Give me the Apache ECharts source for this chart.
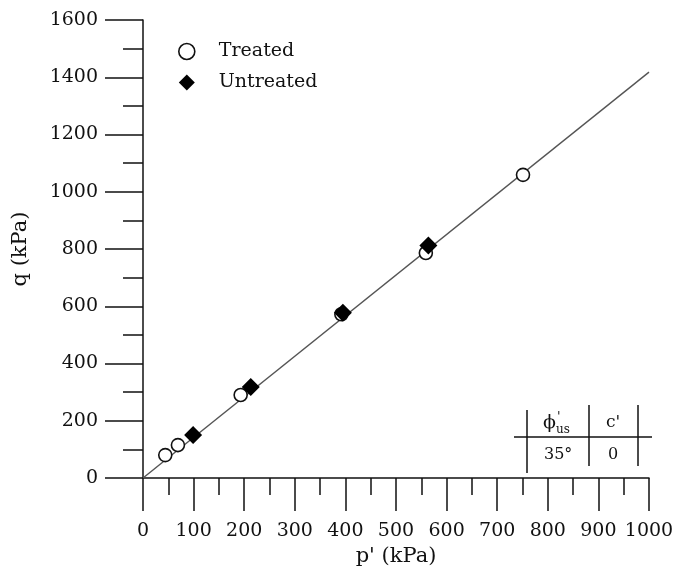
<!DOCTYPE html>
<html>
<head>
<meta charset="utf-8">
<script src="https://cdn.jsdelivr.net/npm/echarts@6/dist/echarts.min.js"></script>
<style>
  html, body { margin: 0; padding: 0; background: #fff; }
  #chart { width: 674px; height: 569px; }
</style>
</head>
<body>
<div id="chart"></div>
<script>
// Mean effective stress p' and deviator stress q at failure (kPa)
const treatedP = [44, 69, 193, 392, 559, 751];
const treatedQ = [80, 115, 290, 572, 786, 1059];
const untreatedP = [99, 213, 395, 564];
const untreatedQ = [150, 318, 577, 812];

// Critical state line (phi' = 35 deg, c' = 0)
const cslP = [0, 1000];
const cslQ = [0, 1418];

const xTicks = { min: 0, max: 1000, step: 100 };
const yTicks = { min: 0, max: 1600, step: 200 };

const FONT = 'DejaVu Serif';
const INK = '#111';

const pairs = (xs, ys) => xs.map((x, i) => [x, ys[i]]);
const plain = v => String(v);

const chart = echarts.init(document.getElementById('chart'), null, { renderer: 'canvas' });

chart.setOption({
  backgroundColor: '#fff',
  animation: false,
  grid: { left: 143, top: 20, right: 25, bottom: 91, containLabel: false, outerBoundsMode: 'none' },
  legend: {
    orient: 'vertical',
    left: 173,
    top: 37,
    itemWidth: 16,
    itemHeight: 16,
    itemGap: 12,
    data: [
      { name: 'Treated', icon: 'circle', itemStyle: { borderWidth: 1.6 } },
      { name: 'Untreated', icon: 'diamond' }
    ],
    textStyle: { fontFamily: FONT, fontSize: 19, color: INK, padding: [0, 0, 0, 19] }
  },
  xAxis: {
    type: 'value',
    min: xTicks.min,
    max: xTicks.max,
    interval: xTicks.step,
    name: "p' (kPa)",
    nameLocation: 'middle',
    nameGap: 66,
    nameTextStyle: { fontFamily: FONT, fontSize: 21, color: INK },
    axisLine: { show: true, lineStyle: { color: INK, width: 1.5 } },
    axisTick: { show: true, length: 33, lineStyle: { color: INK, width: 1.5 } },
    minorTick: { show: true, splitNumber: 2, length: 17, lineStyle: { color: INK, width: 1.5 } },
    splitLine: { show: false },
    axisLabel: { margin: 44, fontFamily: FONT, fontSize: 19, color: INK, formatter: plain, hideOverlap: false }
  },
  yAxis: {
    type: 'value',
    min: yTicks.min,
    max: yTicks.max,
    interval: yTicks.step,
    name: 'q (kPa)',
    nameLocation: 'middle',
    nameGap: 112,
    nameTextStyle: { fontFamily: FONT, fontSize: 21, color: INK },
    axisLine: { show: true, lineStyle: { color: INK, width: 1.5 } },
    axisTick: { show: true, length: 38, lineStyle: { color: INK, width: 1.5 } },
    minorTick: { show: true, splitNumber: 2, length: 20, lineStyle: { color: INK, width: 1.5 } },
    splitLine: { show: false },
    axisLabel: { margin: 45, fontFamily: FONT, fontSize: 19, color: INK, formatter: plain }
  },
  series: [
    {
      name: 'CSL',
      type: 'line',
      data: pairs(cslP, cslQ),
      showSymbol: false,
      silent: true,
      lineStyle: { color: '#555', width: 1.4 },
      z: 1
    },
    {
      name: 'Treated',
      type: 'scatter',
      data: pairs(treatedP, treatedQ),
      symbol: 'circle',
      symbolSize: 13,
      itemStyle: { color: '#fff', borderColor: INK, borderWidth: 1.6, opacity: 1 },
      z: 2
    },
    {
      name: 'Untreated',
      type: 'scatter',
      data: pairs(untreatedP, untreatedQ),
      symbol: 'diamond',
      symbolSize: 18,
      itemStyle: { color: '#000', opacity: 1 },
      z: 3
    }
  ],
  graphic: [
    // strength parameter table
    { type: 'line', shape: { x1: 514, y1: 437, x2: 652, y2: 437 }, style: { stroke: INK, lineWidth: 1.5 } },
    { type: 'line', shape: { x1: 527, y1: 410, x2: 527, y2: 473 }, style: { stroke: INK, lineWidth: 1.5 } },
    { type: 'line', shape: { x1: 589, y1: 405, x2: 589, y2: 466 }, style: { stroke: INK, lineWidth: 1.5 } },
    { type: 'line', shape: { x1: 638, y1: 405, x2: 638, y2: 466 }, style: { stroke: INK, lineWidth: 1.5 } },
    { type: 'text', left: 543, top: 414, style: { text: 'ϕ', font: '19px "DejaVu Serif"', fill: INK } },
    { type: 'text', left: 557, top: 411, style: { text: "'", font: '13px "DejaVu Serif"', fill: INK } },
    { type: 'text', left: 556, top: 424, style: { text: 'us', font: '12px "DejaVu Serif"', fill: INK } },
    { type: 'text', left: 606, top: 414, style: { text: "c'", font: '17px "DejaVu Serif"', fill: INK } },
    { type: 'text', left: 544, top: 447, style: { text: '35°', font: '16px "DejaVu Serif"', fill: INK } },
    { type: 'text', left: 608, top: 447, style: { text: '0', font: '16px "DejaVu Serif"', fill: INK } }
  ]
});
</script>
</body>
</html>
